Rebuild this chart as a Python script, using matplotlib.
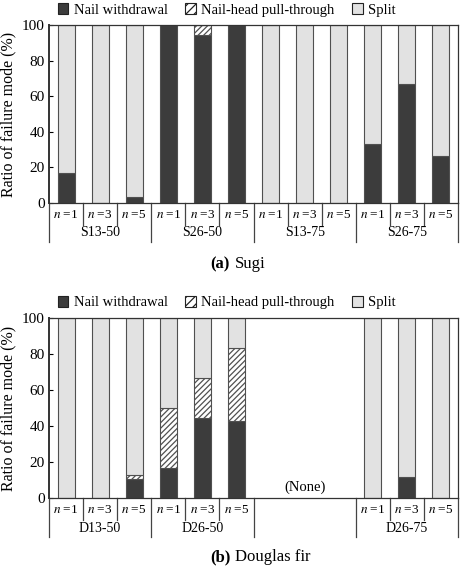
import numpy as np
import matplotlib.pyplot as plt
from matplotlib.patches import Patch

plt.rcParams["font.family"] = ["Liberation Serif", "DejaVu Serif"]
plt.rcParams["mathtext.fontset"] = "stix"
plt.rcParams["hatch.color"] = "#6a6a6a"
plt.rcParams["hatch.linewidth"] = 0.9

# failure-mode ratios (%) per specimen, order n=1, n=3, n=5 within each group
n_labels = ["1", "3", "5"]

sugi_groups = ["S13-50", "S26-50", "S13-75", "S26-75"]
sugi_withdrawal = [16.7, 0, 3.5, 100, 94.4, 100, 0, 0, 0, 33.3, 66.7, 26.5]
sugi_pullthrough = [0, 0, 0, 0, 5.6, 0, 0, 0, 0, 0, 0, 0]
sugi_split = [83.3, 100, 96.5, 0, 0, 0, 100, 100, 100, 66.7, 33.3, 73.5]

fir_groups = ["D13-50", "D26-50", None, "D26-75"]
fir_withdrawal = [0, 0, 10.5, 16.7, 44.4, 43.0, None, None, None, 0, 11.5, 0]
fir_pullthrough = [0, 0, 2.5, 33.3, 22.3, 40.5, None, None, None, 0, 0, 0]
fir_split = [100, 100, 87.0, 50.0, 33.3, 16.5, None, None, None, 100, 88.5, 100]

DARK = "#3c3c3c"
LIGHT = "#e2e2e2"
EDGE = "#505050"

fig = plt.figure(figsize=(4.65, 5.67), dpi=100)
ax_top = fig.add_axes([49 / 465, 1 - 203 / 567, 409 / 465, 178 / 567])
ax_bot = fig.add_axes([49 / 465, 1 - 498 / 567, 409 / 465, 180 / 567])


def draw_panel(ax, groups, nw, nhp, sp, caption_y, caption):
    x = np.arange(len(nw))
    keep = [i for i, v in enumerate(nw) if v is not None]
    xs = x[keep]
    a = np.array([nw[i] for i in keep], dtype=float)
    b = np.array([nhp[i] for i in keep], dtype=float)
    c = np.array([sp[i] for i in keep], dtype=float)
    kw = dict(width=0.5, edgecolor=EDGE, linewidth=0.8)
    ax.bar(xs, a, color=DARK, **kw)
    ax.bar(xs, b, bottom=a, color="white", hatch="//////", **kw)
    ax.bar(xs, c, bottom=a + b, color=LIGHT, **kw)

    ax.set_xlim(-0.5, len(nw) - 0.5)
    ax.set_ylim(0, 100)
    ax.set_yticks(range(0, 101, 20))
    ax.set_xticks([])
    ax.tick_params(axis="y", direction="in", length=3, labelsize=11, pad=3)
    for s in ax.spines.values():
        s.set_linewidth(0.9)
        s.set_color("#333333")
    ax.spines["left"].set_linewidth(1.4)
    ax.set_ylabel("Ratio of failure mode (%)", fontsize=11.5, labelpad=4)

    # category table below the axis
    tr = ax.get_xaxis_transform()
    lk = dict(color="#444444", linewidth=0.9, clip_on=False, transform=tr)
    short = -22 / 178
    long_ = -39 / 178
    for g, name in enumerate(groups):
        left = g * 3 - 0.5
        ax.plot([left, left], [0, long_], **lk)
        if name is None:
            continue
        for k in range(3):
            xi = g * 3 + k
            if k > 0:
                ax.plot([xi - 0.5, xi - 0.5], [0, short], **lk)
            ax.text(xi, -12 / 178, "$n$ =" + n_labels[k], transform=tr,
                    ha="center", va="center", fontsize=9.5)
        ax.text(g * 3 + 1, -30 / 178, name, transform=tr,
                ha="center", va="center", fontsize=10)
    ax.plot([len(nw) - 0.5] * 2, [0, long_], **lk)

    handles = [
        Patch(facecolor=DARK, edgecolor="#222222", linewidth=0.8),
        Patch(facecolor="white", edgecolor="#222222", hatch="////", linewidth=0.8),
        Patch(facecolor=LIGHT, edgecolor="#222222", linewidth=0.8),
    ]
    ax.legend(handles, ["Nail withdrawal", "Nail-head pull-through", "Split"],
              ncol=3, frameon=False, loc="center", bbox_to_anchor=(0.434, 1.085),
              fontsize=10.5, handlelength=0.75, handleheight=0.75,
              handletextpad=0.35, columnspacing=1.2, borderaxespad=0)

    fig.text(210 / 465, caption_y, caption[0], fontsize=12, fontweight="bold",
             ha="left", va="center")
    fig.text(235 / 465, caption_y, caption[1], fontsize=12, ha="left", va="center")


draw_panel(ax_top, sugi_groups, sugi_withdrawal, sugi_pullthrough, sugi_split,
           1 - 264 / 567, ("(a)", "Sugi"))
draw_panel(ax_bot, fir_groups, fir_withdrawal, fir_pullthrough, fir_split,
           1 - 557 / 567, ("(b)", "Douglas fir"))
ax_bot.text(7, 6, "(None)", ha="center", va="center", fontsize=10.5)

fig.savefig("out.png", dpi=100)
